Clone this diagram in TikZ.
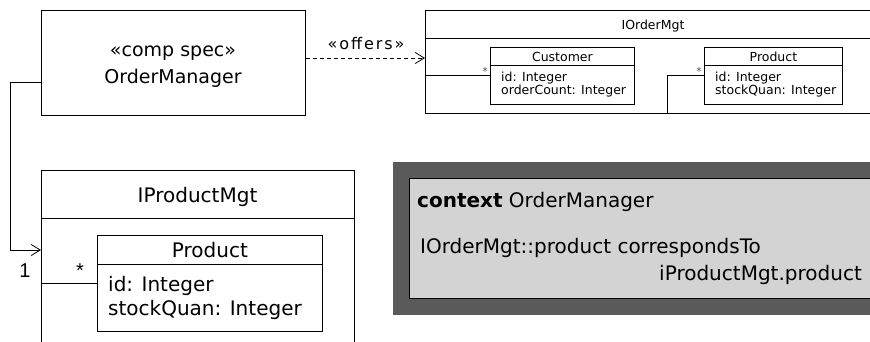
\documentclass[tikz,border=0pt]{standalone}
\usepackage{fontspec}
\setmainfont{DejaVu Sans}
\newfontfamily\arialfont{Liberation Sans}
\newfontfamily\widefont[LetterSpace=12]{DejaVu Sans}
\usetikzlibrary{arrows.meta}

\definecolor{noteframe}{HTML}{5A5A5A}
\definecolor{notefill}{HTML}{D3D3D3}
\definecolor{starcol}{HTML}{555555}

\tikzset{
  umlbox/.style={draw, line width=0.8pt, inner sep=0pt, anchor=north west, rectangle},
  lbl/.style={inner sep=0pt, anchor=base},
  lblw/.style={inner sep=0pt, anchor=base west},
  big/.style={font=\fontsize{19}{23}\selectfont},
  mid/.style={font=\fontsize{20}{24}\selectfont},
  small/.style={font=\fontsize{12.5}{15}\selectfont},
  wire/.style={line width=0.8pt},
  openarrow/.style={-{Straight Barb[length=9pt,width=11pt,line width=0.8pt]}},
}

\begin{document}
\begin{tikzpicture}[x=1pt,y=-1pt]
\clip (0,0) rectangle (870,342);
\fill[white] (0,0) rectangle (870,342);

% component specification
\node[umlbox, minimum width=264pt, minimum height=105pt] (om) at (41,10) {};
\node[lbl, big] (omst) at (173,57) {«comp spec»};
\node[lbl, big] (omname) at (173,84) {OrderManager};

% offered interface IOrderMgt
\node[umlbox, minimum width=456pt, minimum height=103pt] (iom) at (425,10) {};
\draw[wire] (425,38) -- (881,38);
\node[lbl, small] (iomt) at (653,30) {IOrderMgt};

\node[umlbox, minimum width=144pt, minimum height=57pt] (cust) at (490,47) {};
\draw[wire] (cust.west |- 0,65) -- (cust.east |- 0,65);
\node[lbl, small] (custt) at (cust.north |- 0,62) {Customer};
\node[lblw, small] (custa) at (501,82) {id: Integer};
\node[lblw, small] (custb) at (501,95) {orderCount: Integer};

\node[umlbox, minimum width=138pt, minimum height=57pt] (p1) at (704,47) {};
\draw[wire] (p1.west |- 0,65) -- (p1.east |- 0,65);
\node[lbl, small] (p1t) at (p1.north |- 0,62) {Product};
\node[lblw, small] (p1a) at (715,82) {id: Integer};
\node[lblw, small] (p1b) at (715,95) {stockQuan: Integer};

\draw[wire] (cust.west) -- (cust.west -| iom.west);
\node[lbl, font=\fontsize{11}{13}\selectfont, text=starcol] (st1) at (485,76) {*};
\coordinate (jn) at (667,0);
\draw[wire] (jn |- iom.south) -- (jn |- p1.west) -- (p1.west);
\node[lbl, font=\fontsize{11}{13}\selectfont, text=starcol] (st2) at (699,76) {*};

% offers dependency
\coordinate (offy) at (0,58);
\draw[wire, dash pattern=on 4pt off 3pt, openarrow] (om.east |- offy) -- (iom.west |- offy);
\node[lbl, font=\widefont\fontsize{16}{19}\selectfont] (offers) at (366,50) {«offers»};

% used interface IProductMgt
\node[umlbox, minimum width=313pt, minimum height=200pt] (ipm) at (41,170) {};
\draw[wire] (41,218) -- (354,218);
\node[lbl, mid] (ipmt) at (197.5,202) {IProductMgt};

\node[umlbox, minimum width=225pt, minimum height=96pt] (p2) at (97,235) {};
\draw[wire] (p2.west |- 0,264) -- (p2.east |- 0,264);
\node[lbl, mid] (p2t) at (p2.north |- 0,257) {Product};
\node[lblw, mid] (p2a) at (108,291) {id: Integer};
\node[lblw, mid] (p2b) at (108,315) {stockQuan: Integer};

\draw[wire] (p2.west) -- (p2.west -| ipm.west);
\node[lbl, font=\arialfont\fontsize{20}{24}\selectfont] (st3) at (80,277) {*};
\node[lbl, font=\arialfont\fontsize{20}{24}\selectfont] (one) at (25,277) {1};

% requires connection
\coordinate (reqy) at (0,82);
\coordinate (bend) at (10,0);
\coordinate (entry) at (0,250);
\draw[wire, openarrow] (om.west |- reqy) -- (bend |- reqy) -- (bend |- entry) -- (ipm.west |- entry);

% constraint note
\node[inner sep=0pt, anchor=north west, fill=noteframe, minimum width=510pt, minimum height=153pt] (noteout) at (393,162) {};
\node[umlbox, fill=notefill, line width=0.6pt, minimum width=494pt, minimum height=120pt] (note) at (409,178) {};
\node[lblw, mid] (n1) at (417,207) {\textbf{context} OrderManager};
\node[lblw, mid] (n2) at (420,253) {IOrderMgt::product correspondsTo};
\node[inner sep=0pt, anchor=base east, mid] (n3) at (862,280) {iProductMgt.product};
\end{tikzpicture}
\end{document}
